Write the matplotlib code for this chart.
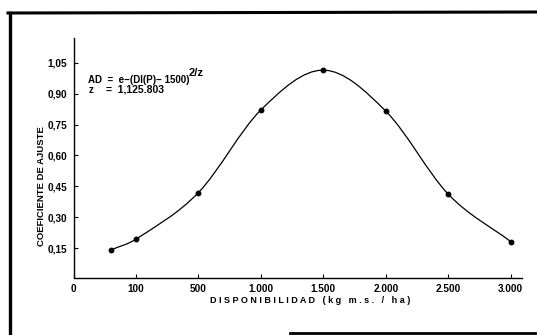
import numpy as np
import matplotlib as mpl
mpl.use('Agg')
import matplotlib.pyplot as plt
from matplotlib.path import Path
from matplotlib.patches import PathPatch
from matplotlib.lines import Line2D

# data
tick_values = [0, 100, 500, 1000, 1500, 2000, 2500, 3000]
tick_labels = ['0', '100', '500', '1.000', '1.500', '2.000', '2.500', '3.000']
y_ticks = [0.15, 0.30, 0.45, 0.60, 0.75, 0.90, 1.05]
y_labels = ['0,15', '0,30', '0,45', '0,60', '0,75', '0,90', '1,05']
disponibilidad = [60, 100, 500, 1000, 1500, 2000, 2500, 3000]
ajuste = [0.142, 0.194, 0.42, 0.821, 1.014, 0.815, 0.412, 0.182]

plt.rcParams['font.family'] = ['Liberation Sans', 'DejaVu Sans']
plt.rcParams['font.weight'] = 'bold'
plt.rcParams['axes.labelweight'] = 'bold'

W, H = 537, 335
fig = plt.figure(figsize=(W / 100, H / 100), dpi=100)


def px(x, y):
    return x / W, 1 - y / H


# axes placed from the pixel frame of the scan
ax = fig.add_axes([73.5 / W, 1 - 277.5 / H, (522 - 73.5) / W, (277.5 - 38) / H])

# the x axis is not linear: ticks are evenly spaced
positions = np.arange(len(tick_values))
xs = np.interp(disponibilidad, tick_values, positions)
ys = np.array(ajuste)

# smooth curve through the points (cubic hermite as bezier segments)
m = np.gradient(ys, xs)
m[1:-1] = (ys[2:] - ys[:-2]) / (xs[2:] - xs[:-2])
verts = [(xs[0], ys[0])]
codes = [Path.MOVETO]
for i in range(len(xs) - 1):
    h = (xs[i + 1] - xs[i]) / 3
    verts += [(xs[i] + h, ys[i] + m[i] * h),
              (xs[i + 1] - h, ys[i + 1] - m[i + 1] * h),
              (xs[i + 1], ys[i + 1])]
    codes += [Path.CURVE4] * 3
ax.add_patch(PathPatch(Path(verts, codes), fill=False, lw=0.9, color='black'))
ax.plot(xs, ys, 'o', color='black', ms=3.2)

ax.set_xlim(0, 7.18)
ax.set_ylim(0.008, 1.17)
ax.set_xticks(positions, tick_labels)
ax.set_yticks(y_ticks, y_labels)
ax.tick_params(direction='in', length=3, width=0.8, labelsize=7.2)
ax.tick_params(axis='x', pad=4.5)
ax.tick_params(axis='y', pad=4.5)
for s in ['top', 'right']:
    ax.spines[s].set_visible(False)
for s in ['left', 'bottom']:
    ax.spines[s].set_linewidth(1.0)

ax.set_xlabel('D I S P O N I B I L I D A D   ( k g   m . s .   /   h a )', fontsize=6.5)
ax.xaxis.set_label_coords(0.527, -0.098)
ax.xaxis.label.set_va('center')
ax.set_ylabel('COEFICIENTE DE AJUSTE', fontsize=6.8)
ax.yaxis.set_label_coords(-0.0713, 0.382)
ax.yaxis.label.set_va('center')

# equation
fig.text(*px(88.3, 82.7), 'AD  =  e\u2212(DI(P)\u2212 1500)', fontsize=7, va='baseline')
fig.text(*px(189, 76.5), '2/z', fontsize=8, va='baseline')
fig.text(*px(88.3, 93), 'z', fontsize=7, va='baseline')
fig.text(*px(106, 93), '=  1,125.803', fontsize=7.5, va='baseline')

# scanned page frame
for (x0, y0), (x1, y1), lw in [((8, 13), (537, 12), 2.2),
                               ((10, 13), (10, 335), 2.4),
                               ((290, 333), (537, 333), 2.0)]:
    a, b = px(x0, y0)
    c, d = px(x1, y1)
    fig.add_artist(Line2D([a, c], [b, d], transform=fig.transFigure,
                          color='black', lw=lw))

fig.savefig('out.png', dpi=100)
